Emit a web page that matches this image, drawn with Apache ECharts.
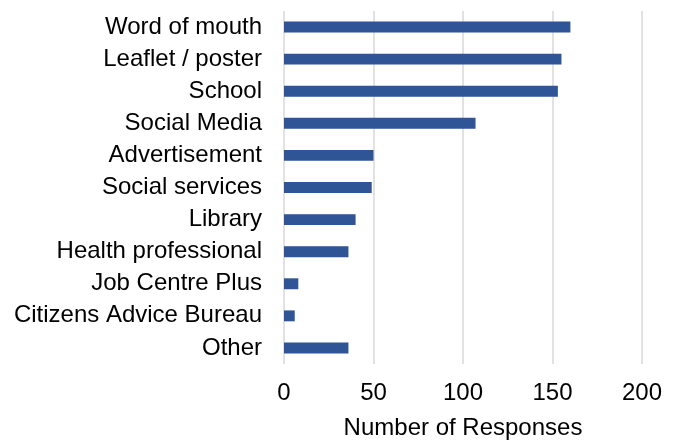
<!DOCTYPE html>
<html>
<head>
<meta charset="utf-8">
<script src="https://cdn.jsdelivr.net/npm/echarts@6/dist/echarts.min.js"></script>
<style>
html,body{margin:0;padding:0;background:#fff;}
#chart{width:678px;height:445px;}
</style>
</head>
<body>
<div id="chart"></div>
<script>
var categories = ["Word of mouth","Leaflet / poster","School","Social Media","Advertisement","Social services","Library","Health professional","Job Centre Plus","Citizens Advice Bureau","Other"];
var responses = [160,155,153,107,50,49,40,36,8,6,36];
var xTicks = {min:0, max:200, interval:50};
var xTitle = "Number of Responses";

var chart = echarts.init(document.getElementById('chart'), null, {renderer:'canvas'});
chart.setOption({
  animation:false,
  backgroundColor:'#ffffff',
  textStyle:{fontFamily:'"Liberation Sans", Arial, sans-serif'},
  grid:{left:284, right:36, top:11, height:360, containLabel:false},
  xAxis:{
    type:'value', min:xTicks.min, max:xTicks.max, interval:xTicks.interval,
    name:xTitle, nameLocation:'middle', nameGap:52,
    nameTextStyle:{color:'#000', fontSize:24, fontFamily:'"Liberation Sans", Arial, sans-serif'},
    axisLine:{show:false}, axisTick:{show:false},
    axisLabel:{color:'#000', fontSize:24, margin:17, fontFamily:'"Liberation Sans", Arial, sans-serif'},
    splitLine:{show:true, lineStyle:{color:'#d9d9d9', width:1.5}}
  },
  yAxis:{
    type:'category', data:categories, inverse:true,
    axisLine:{show:false}, axisTick:{show:false},
    axisLabel:{color:'#000', fontSize:24, margin:22, fontFamily:'"Liberation Sans", Arial, sans-serif'},
    splitLine:{show:false}
  },
  series:[{
    type:'bar', data:responses, barWidth:'34%',
    itemStyle:{color:'#2F5597'}
  }]
});
</script>
</body>
</html>
